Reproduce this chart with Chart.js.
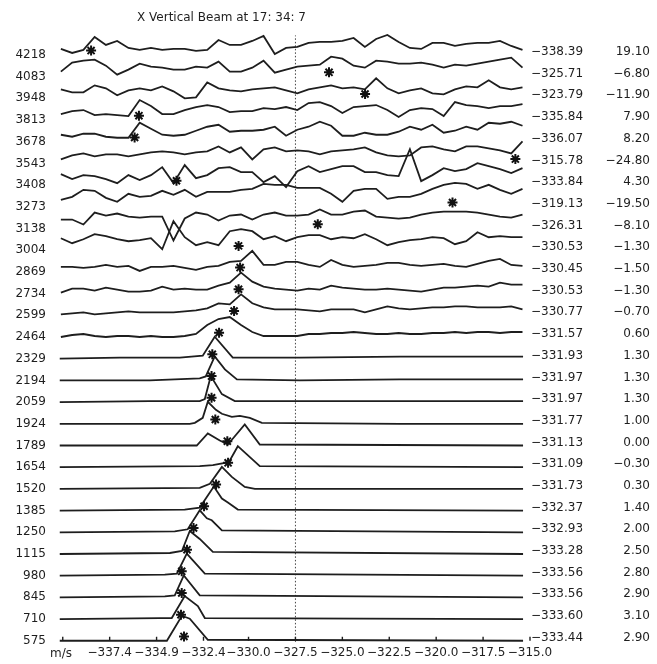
<!DOCTYPE html>
<html>
<head>
<meta charset="utf-8">
<script src="https://cdn.jsdelivr.net/npm/chart.js@4.4.1/dist/chart.umd.min.js"></script>
<style>
  html, body { margin: 0; padding: 0; background: #fff; }
</style>
</head>
<body>
<canvas id="beam" width="657" height="664"></canvas>
<script>
// range gates (m), top row first
const heights = [4218, 4083, 3948, 3813, 3678, 3543, 3408, 3273, 3138, 3004, 2869, 2734, 2599, 2464,
                 2329, 2194, 2059, 1924, 1789, 1654, 1520, 1385, 1250, 1115, 980, 845, 710, 575];
// first right column (m/s), marked with the star on each row
const meanVel = [-338.39, -325.71, -323.79, -335.84, -336.07, -315.78, -333.84, -319.13, -326.31, -330.53,
                 -330.45, -330.53, -330.77, -331.57, -331.93, -331.97, -331.97, -331.77, -331.13, -331.09,
                 -331.73, -332.37, -332.93, -333.28, -333.56, -333.56, -333.60, -333.44];
// second right column
const second = [19.10, -6.80, -11.90, 7.90, 8.20, -24.80, 4.30, -19.50, -8.10, -1.30,
                -1.50, -1.30, -0.70, 0.60, 1.30, 1.30, 1.30, 1.00, 0.00, -0.30,
                0.30, 1.40, 2.00, 2.50, 2.80, 2.90, 3.10, 2.90];

// x axis tick values (first one unlabelled)
const xTicks = [-339.9, -337.4, -334.9, -332.4, -330.0, -327.5, -325.0, -322.5, -320.0, -317.5, -315.0];
const markLine = -327.5;

// velocity bins for the noisy upper spectra
const bins = [-340.0, -339.4, -338.8, -338.2, -337.6, -337.0, -336.4, -335.8, -335.2, -334.6,
              -334.0, -333.4, -332.8, -332.2, -331.6, -331.0, -330.4, -329.8, -329.2, -328.6,
              -328.0, -327.4, -326.8, -326.2, -325.6, -325.0, -324.4, -323.8, -323.2, -322.6,
              -322.0, -321.4, -320.8, -320.2, -319.6, -319.0, -318.4, -317.8, -317.2, -316.6,
              -316.0, -315.4];

// spectra 4218 .. 2464, amplitude on bins
const upperSpectra = [
  [6,2,5,18,10,14,7,5,7,5,6,6,4,5,15,10,10,14,19,1,7,8,12,13,13,14,17,8,16,20,13,7,6,12,12,9,11,12,12,14,9,5],
  [5,14,16,17,11,2,7,13,10,9,7,7,10,9,15,5,5,9,16,4,7,10,11,12,20,18,11,9,16,15,13,13,14,12,9,12,11,13,15,17,19,9],
  [9,6,6,13,10,3,8,10,8,12,7,0,1,16,10,8,7,9,10,11,8,5,9,11,13,10,11,9,20,10,5,8,10,5,4,9,12,11,18,11,9,11],
  [6,9,10,5,6,5,4,20,14,6,6,10,13,15,13,8,9,9,12,11,13,10,17,18,14,7,13,14,15,10,3,10,12,11,4,18,15,14,12,14,14,16],
  [7,5,8,8,5,4,4,19,13,7,6,7,11,15,17,10,11,11,12,15,6,12,15,20,16,6,6,9,7,7,10,15,12,17,9,11,15,12,19,18,20,16],
  [4,8,10,7,9,9,7,9,11,12,11,9,11,12,17,11,16,4,14,16,12,13,12,9,12,13,14,16,11,8,7,8,16,17,14,12,17,17,15,13,10,22],
  [11,6,10,9,6,2,10,5,10,18,2,20,7,10,17,18,13,13,3,9,-2,14,19,13,16,19,19,13,13,10,9,36,4,10,17,14,16,22,19,16,12,17],
  [7,10,17,16,9,5,13,10,11,16,12,17,10,15,15,15,17,18,23,22,22,19,19,19,13,5,16,18,18,8,10,10,13,18,22,24,23,18,22,17,13,18],
  [9,9,4,16,13,15,12,11,12,12,-12,10,16,14,8,13,14,9,14,16,13,13,14,19,14,14,17,18,12,11,10,11,14,16,17,17,17,16,14,12,11,14],
  [12,7,11,16,14,11,9,10,12,1,29,13,5,8,5,19,21,19,11,14,9,13,15,15,11,13,12,16,11,5,8,10,11,13,12,6,9,18,13,14,13,13],
  [5,5,4,5,7,5,6,1,5,5,6,4,2,5,6,10,11,21,7,7,10,10,7,5,12,7,5,6,7,9,9,7,6,7,8,6,5,8,11,13,7,6],
  [1,5,5,3,6,4,2,2,3,7,4,5,4,4,8,11,21,12,7,5,4,3,5,4,8,6,5,4,4,5,4,3,2,4,6,6,7,8,7,11,9,9],
  [1,2,3,1,2,3,4,3,3,3,3,4,5,7,12,11,21,12,8,6,6,6,5,4,6,6,6,3,6,9,7,6,7,8,8,9,9,8,8,8,9,6],
  [0,2,3,1,0,1,1,0,1,0,0,1,3,12,18,20,12,5,1,1,1,1,3,3,4,4,5,4,3,3,4,3,3,4,4,5,4,5,5,4,5,5]
];

// spectra 2329 .. 575, [velocity, amplitude] break points
const lowerSpectra = [
  [[-340.06,0],[-336.86,1],[-333.66,1],[-332.44,3],[-331.80,22],[-330.84,1],[-327.26,1],[-321.93,2],[-315.37,2]],
  [[-340.06,0],[-335.26,0],[-332.60,2],[-332.28,4],[-331.80,24],[-331.26,11],[-330.62,1],[-327.26,0],[-321.93,1],[-315.37,1]],
  [[-340.06,0],[-335.26,1],[-332.60,1],[-332.33,3],[-332.01,26],[-331.42,8],[-330.73,1],[-324.60,1],[-315.37,1]],
  [[-340.06,0],[-333.13,0],[-332.86,1],[-332.44,6],[-332.17,22],[-331.74,14],[-331.42,10],[-330.89,7],[-330.46,8],[-329.93,6],[-329.29,1],[-321.93,0],[-315.37,0]],
  [[-340.06,0],[-332.76,0],[-332.17,12],[-331.53,5],[-331.10,1],[-330.20,21],[-329.40,1],[-315.37,0]],
  [[-340.06,0],[-332.60,1],[-331.90,2],[-331.05,5],[-330.57,21],[-329.40,1],[-315.37,0]],
  [[-340.06,0],[-332.60,1],[-332.06,5],[-331.42,22],[-330.89,12],[-330.20,2],[-329.66,0],[-315.37,0]],
  [[-340.06,0],[-333.40,1],[-332.60,3],[-331.85,24],[-331.42,12],[-331.10,8],[-330.57,1],[-315.37,0]],
  [[-340.06,0],[-333.93,1],[-333.24,3],[-332.60,22],[-332.22,14],[-331.96,12],[-331.42,2],[-315.37,0]],
  [[-340.06,0],[-334.19,1],[-333.55,3],[-333.13,23],[-332.60,15],[-331.90,2],[-315.37,0]],
  [[-340.06,0],[-334.46,1],[-333.82,2],[-333.29,22],[-332.33,2],[-315.37,0]],
  [[-340.06,0],[-334.46,1],[-333.93,2],[-333.45,22],[-332.60,2],[-315.37,0]],
  [[-340.06,0],[-334.73,1],[-334.09,1],[-333.40,23],[-332.70,13],[-332.33,1],[-315.37,0]],
  [[-340.06,0],[-334.73,0],[-334.35,0],[-333.55,25],[-333.13,22],[-332.17,1],[-315.37,0]]
];

const rowAmp = 21.7;   // amplitude units per row spacing
const nRows = heights.length;
const ink = '#1e1e1e';
const font = { family: '"DejaVu Sans", sans-serif', size: 12 };

const fmt = (v, d) => (v < 0 ? '\u2212' : '') + Math.abs(v).toFixed(d);

let datasets = [];

heights.forEach((h, i) => {
    let k = nRows - 1 - i;
    let pts;
    if (i < upperSpectra.length) {
        pts = bins.map((v, j) => ({ x: v, y: k + upperSpectra[i][j] / rowAmp }));
    } else {
        pts = lowerSpectra[i - upperSpectra.length].map(p => ({ x: p[0], y: k + p[1] / rowAmp }));
    }
    datasets.push({
        type: 'line', data: pts, order: 1,
        borderColor: ink, borderWidth: 1.8, pointRadius: 0, tension: 0
    });
});

let marks = meanVel.map((v, i) => ({ x: v, y: nRows - 1 - i + 0.2 }));
datasets.push({
    type: 'scatter', data: marks, order: 0,
    pointStyle: 'star', pointRadius: 5, borderWidth: 2, borderColor: '#111', backgroundColor: '#111'
});
datasets.push({
    type: 'scatter', data: marks, order: 0,
    pointStyle: 'rect', pointRadius: 2.5, borderWidth: 0, backgroundColor: '#111'
});
datasets.push({
    type: 'line', order: 2,
    data: [{ x: markLine, y: -0.05 }, { x: markLine, y: 27.9 }],
    borderColor: '#444', borderWidth: 1, borderDash: [1.5, 2], pointRadius: 0
});

// title, right columns, unit label and the little ticks on the bottom row
const annotate = {
    id: 'annotate',
    afterDraw(chart) {
        const { ctx, scales: { x, y } } = chart;
        ctx.save();
        ctx.fillStyle = ink;
        ctx.font = '12px "DejaVu Sans", sans-serif';
        ctx.textBaseline = 'middle';
        ctx.textAlign = 'left';
        ctx.fillText('X Vertical Beam at 17: 34: 7', 137, 18);
        ctx.fillText('m/s', 50, 654);
        heights.forEach((h, i) => {
            let py = y.getPixelForValue(nRows - 1 - i) - 3;
            ctx.textAlign = 'left';
            ctx.fillText(fmt(meanVel[i], 2), x.right + 1, py);
            ctx.textAlign = 'right';
            ctx.fillText(fmt(second[i], 2), 650, py);
        });
        let y0 = y.getPixelForValue(0);
        ctx.strokeStyle = ink;
        ctx.lineWidth = 1.4;
        x.ticks.forEach(t => {
            let px = x.getPixelForValue(t.value);
            ctx.beginPath();
            ctx.moveTo(px, y0);
            ctx.lineTo(px, y0 - 4);
            ctx.stroke();
        });
        ctx.restore();
    }
};

new Chart(document.getElementById('beam'), {
    type: 'line',
    data: { datasets: datasets },
    plugins: [annotate],
    options: {
        responsive: false,
        animation: false,
        devicePixelRatio: 1,
        layout: { padding: { top: 30, right: 127, bottom: 0, left: 0 } },
        plugins: { legend: { display: false }, tooltip: { enabled: false } },
        scales: {
            x: {
                type: 'linear', min: -340.1, max: -315.0,
                afterBuildTicks: s => { s.ticks = xTicks.map(v => ({ value: v })); },
                afterFit: s => { s.height = 19; },
                grid: { display: false, drawTicks: false },
                border: { display: false },
                ticks: {
                    autoSkip: false, maxRotation: 0, padding: 2, color: ink, font: font,
                    callback: (v, i) => i === 0 ? '' : fmt(v, 1)
                }
            },
            y: {
                type: 'linear', min: -0.14, max: 28.15,
                afterBuildTicks: s => { s.ticks = heights.map((h, i) => ({ value: nRows - 1 - i })); },
                afterFit: s => { s.width = 59; },
                grid: { display: false, drawTicks: false },
                border: { display: false },
                ticks: {
                    autoSkip: false, padding: 13, color: ink, font: font,
                    callback: v => heights[nRows - 1 - v]
                }
            }
        }
    }
});
</script>
</body>
</html>
